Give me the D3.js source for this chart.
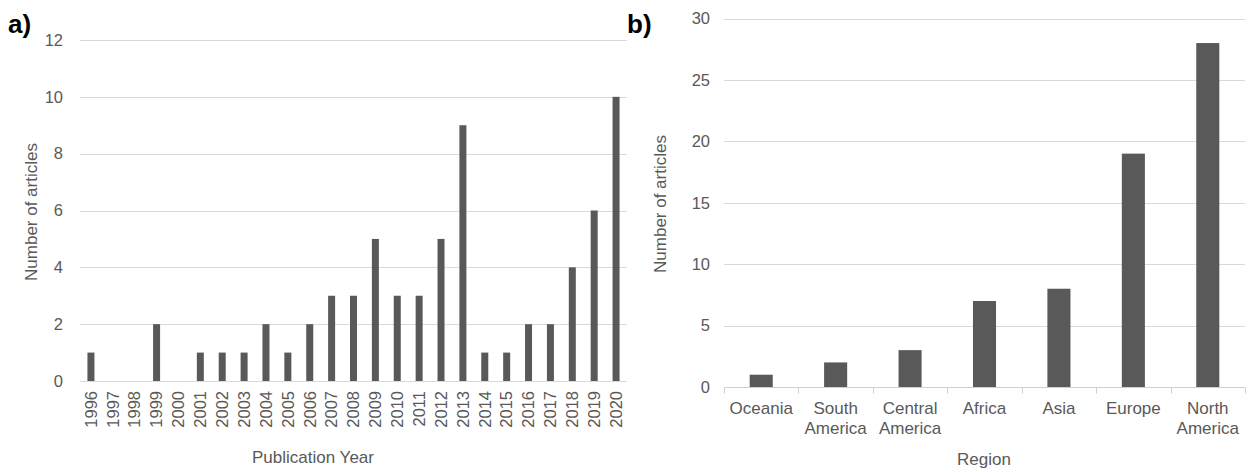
<!DOCTYPE html>
<html>
<head>
<meta charset="utf-8">
<script src="https://cdn.jsdelivr.net/npm/d3@7"></script>
<style>
  html, body { margin: 0; padding: 0; background: #fff; }
  svg { display: block; font-family: "Liberation Sans", Arial, sans-serif; }
</style>
</head>
<body>
<svg id="chart" width="1257" height="472"></svg>
<script>
// Panel a: articles per publication year
const years = ["1996","1997","1998","1999","2000","2001","2002","2003","2004","2005","2006","2007","2008",
               "2009","2010","2011","2012","2013","2014","2015","2016","2017","2018","2019","2020"];
const yearCounts = [1,0,0,2,0,1,1,1,2,1,2,3,3,5,3,3,5,9,1,1,2,2,4,6,10];
const yearTicks = [0,2,4,6,8,10,12];

// Panel b: articles per region
const regions = [["Oceania"],["South","America"],["Central","America"],["Africa"],["Asia"],["Europe"],["North","America"]];
const regionCounts = [1,2,3,7,8,19,28];
const regionTicks = [0,5,10,15,20,25,30];

const textColor = "#595959";
const barColor = "#595959";
const gridColor = "#d9d9d9";

const svg = d3.select("#chart");

function panel(opts) {
  const g = svg.append("g");
  const x = d3.scaleBand()
    .domain(opts.keys)
    .range([opts.x0, opts.x1])
    .paddingInner(opts.pad)
    .paddingOuter(opts.pad / 2);
  const y = d3.scaleLinear().domain([0, opts.max]).range([opts.y0, opts.y1]);

  // gridlines
  g.append("g").selectAll("line").data(opts.ticks.filter(d => d > 0)).join("line")
    .attr("x1", opts.x0).attr("x2", opts.x1)
    .attr("y1", d => Math.round(y(d)) + 0.5).attr("y2", d => Math.round(y(d)) + 0.5)
    .attr("stroke", gridColor).attr("stroke-width", 1);

  // y tick labels
  g.append("g").selectAll("text").data(opts.ticks).join("text")
    .attr("x", opts.labelX).attr("y", d => y(d)).attr("dy", "0.35em")
    .attr("text-anchor", "end").attr("fill", textColor).attr("font-size", 16.5)
    .text(d => d);

  // bars
  g.append("g").selectAll("rect").data(opts.keys).join("rect")
    .attr("x", d => x(d)).attr("width", x.bandwidth())
    .attr("y", (d, i) => y(opts.values[i]))
    .attr("height", (d, i) => y(0) - y(opts.values[i]))
    .attr("fill", barColor);

  // baseline
  const base = Math.round(y(0)) + 0.5;
  g.append("line").attr("x1", opts.x0).attr("x2", opts.x1)
    .attr("y1", base).attr("y2", base).attr("stroke", opts.baseColor).attr("stroke-width", 1);
  if (opts.boundaryTicks) {
    const step = x.step();
    g.append("g").selectAll("line").data(d3.range(opts.keys.length + 1)).join("line")
      .attr("x1", i => Math.round(opts.x0 + i * step) + 0.5)
      .attr("x2", i => Math.round(opts.x0 + i * step) + 0.5)
      .attr("y1", base).attr("y2", base + 6)
      .attr("stroke", opts.baseColor).attr("stroke-width", 1);
  }

  // y axis title
  g.append("text")
    .attr("transform", `translate(${opts.yTitleX},${opts.yTitleY}) rotate(-90)`)
    .attr("text-anchor", "middle").attr("fill", textColor).attr("font-size", 17)
    .text("Number of articles");

  // x axis title
  g.append("text").attr("x", opts.xTitleX).attr("y", opts.xTitleY)
    .attr("text-anchor", "middle").attr("fill", textColor).attr("font-size", 17)
    .text(opts.xTitle);

  // panel letter
  g.append("text").attr("x", opts.letterX).attr("y", 33)
    .attr("font-weight", "bold").attr("font-size", 26).attr("fill", "#000")
    .text(opts.letter);

  return { g, x, y };
}

// ---- panel a ----
const a = panel({
  keys: years, values: yearCounts, ticks: yearTicks, max: 12,
  x0: 80, x1: 627, y0: 381, y1: 40, pad: 0.68,
  labelX: 63, baseColor: gridColor, boundaryTicks: false,
  yTitleX: 37, yTitleY: 212, xTitle: "Publication Year", xTitleX: 313, xTitleY: 463,
  letter: "a)", letterX: 8
});
a.g.append("g").selectAll("text").data(years).join("text")
  .attr("transform", d => `translate(${a.x(d) + a.x.bandwidth() / 2},391) rotate(-90)`)
  .attr("dy", "0.35em").attr("text-anchor", "end")
  .attr("fill", textColor).attr("font-size", 16.5)
  .text(d => d);

// ---- panel b ----
const regionKeys = regions.map(r => r.join(" "));
const b = panel({
  keys: regionKeys, values: regionCounts, ticks: regionTicks, max: 30,
  x0: 724, x1: 1245, y0: 387, y1: 18.5, pad: 0.69,
  labelX: 710, baseColor: "#cfcfcf", boundaryTicks: true,
  yTitleX: 666, yTitleY: 204, xTitle: "Region", xTitleX: 984, xTitleY: 465,
  letter: "b)", letterX: 627
});
const catLabels = b.g.append("g").selectAll("text").data(regions).join("text")
  .attr("x", (d, i) => b.x(regionKeys[i]) + b.x.bandwidth() / 2)
  .attr("y", 414)
  .attr("text-anchor", "middle").attr("fill", textColor).attr("font-size", 17);
catLabels.selectAll("tspan").data(d => d).join("tspan")
  .attr("x", function () { return d3.select(this.parentNode).attr("x"); })
  .attr("dy", (d, i) => i === 0 ? 0 : 20)
  .text(d => d);
</script>
</body>
</html>
